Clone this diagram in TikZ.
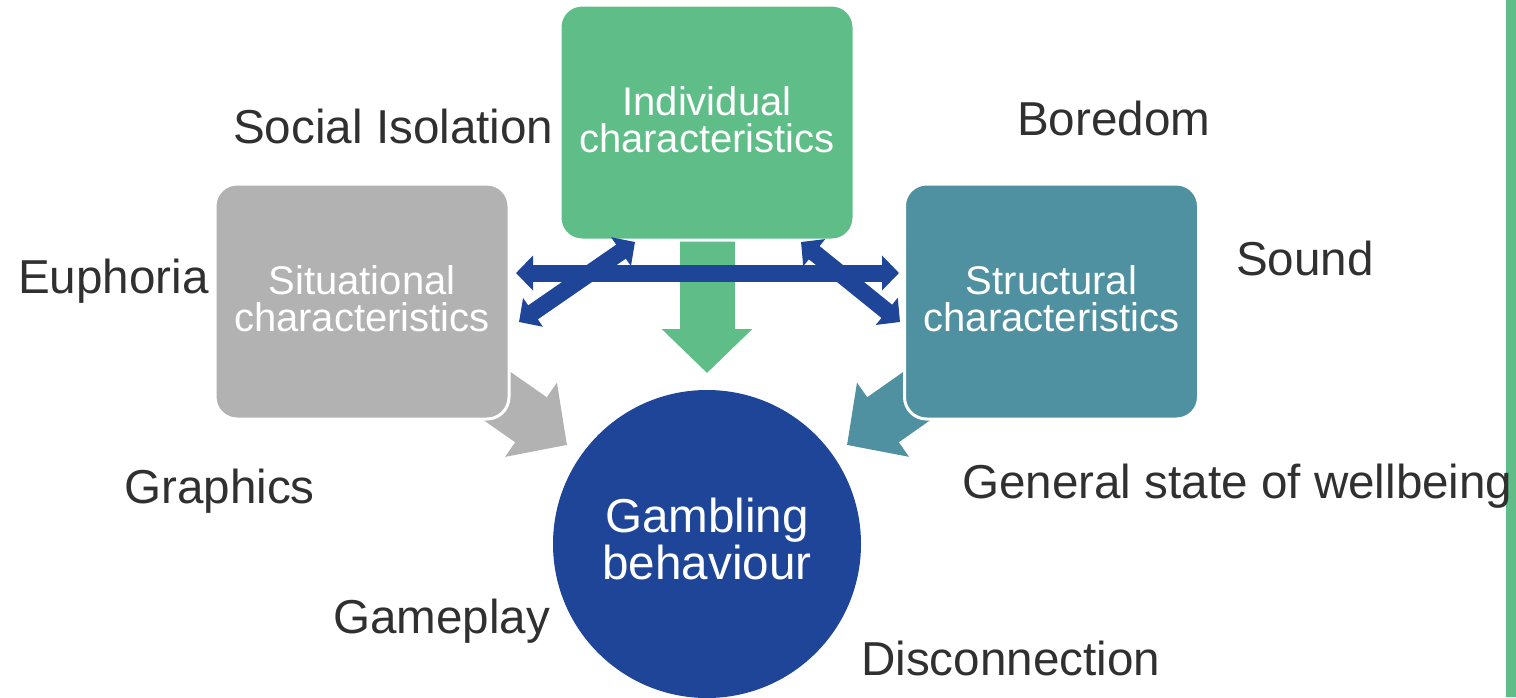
\documentclass[tikz,border=0pt]{standalone}
\usepackage{fontspec}
\setmainfont{Liberation Sans}
\usetikzlibrary{arrows.meta,backgrounds}
\definecolor{igreen}{HTML}{5FBE87}
\definecolor{sgray}{HTML}{B2B2B2}
\definecolor{steal}{HTML}{4F91A1}
\definecolor{gblue}{HTML}{1F4599}
\definecolor{txt}{HTML}{303030}
\begin{document}
\begin{tikzpicture}[x=1pt,y=-1pt,
  box/.style={rectangle, rounded corners=22pt, draw=white, line width=3pt,
    minimum width=294pt, minimum height=235pt, text=white, align=center,
    font=\fontsize{40}{37}\selectfont, inner sep=0pt, text depth=6pt},
  hub/.style={circle, fill=gblue, minimum size=308pt, inner sep=0pt, text=white,
    align=center, font=\fontsize{47.6}{47}\selectfont, text depth=10pt},
  lbl/.style={anchor=base west, inner sep=0pt, text=txt,
    font=\fontsize{47.6}{52}\selectfont},
  blockarrow/.style={line width=55pt, -{Triangle[length=44pt,width=88pt]}},
  duplex/.style={draw=gblue, line width=17pt,
    {Triangle[length=17pt,width=34pt]}-{Triangle[length=17pt,width=34pt]}}
]
\useasboundingbox (0,0) rectangle (1516,697);
\fill[igreen] (1506,0) rectangle (1516,697);

% boxes
\node[box, fill=igreen] (ind) at (707,122.5) {Individual\\characteristics};
\node[box, fill=sgray]  (sit) at (362,301.5) {Situational\\characteristics};
\node[box, fill=steal]  (str) at (1051.5,301.5) {Structural\\characteristics};
\node[hub] (gb) at (707,544) {Gambling\\behaviour};

% block arrows behind the boxes
\coordinate (gtip) at (707,373);
\coordinate (stip) at (567,445);
\coordinate (ttip) at (847,445);
\begin{scope}[on background layer]
  \draw[blockarrow, draw=sgray, fill=sgray] (sit.center) -- (stip);
  \draw[blockarrow, draw=steal, fill=steal] (str.center) -- (ttip);
  \draw[blockarrow, draw=igreen, fill=igreen] (ind.center) -- (gtip);
\end{scope}

% blue double arrows
\coordinate (hl) at (516,273);
\coordinate (hr) at (899,273);
\coordinate (dla) at (635,242);
\coordinate (dlb) at (519,322);
\coordinate (dra) at (801,242);
\coordinate (drb) at (900,322);
\draw[duplex] (dla) -- (dlb);
\draw[duplex] (dra) -- (drb);
\draw[duplex] (hl) -- (hr);

% labels
\node[lbl] (l1) at (233,143) {Social Isolation};
\node[lbl] (l2) at (1017,135) {Boredom};
\node[lbl] (l3) at (18,293) {Euphoria};
\node[lbl] (l4) at (1236,275) {Sound};
\node[lbl] (l5) at (124,503) {Graphics};
\node[lbl] (l6) at (962,498) {General state of wellbeing};
\node[lbl] (l7) at (333,633) {Gameplay};
\node[lbl] (l8) at (861,675) {Disconnection};
\end{tikzpicture}
\end{document}
